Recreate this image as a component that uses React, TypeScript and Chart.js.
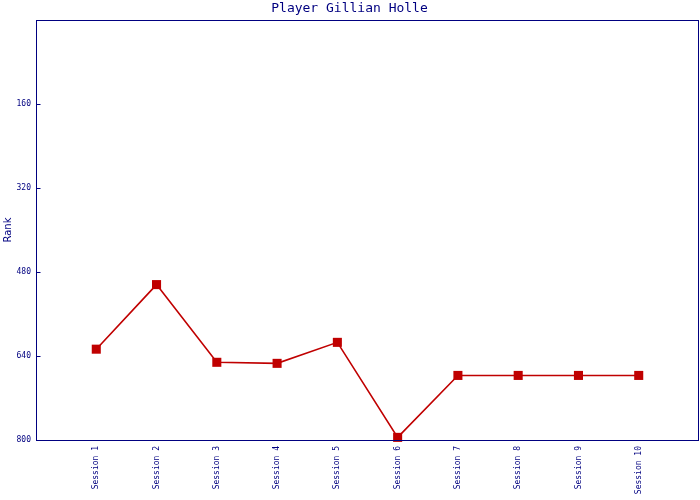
import React, { useEffect, useRef } from "react";
import { Chart, registerables } from "chart.js";

Chart.register(...registerables);

const categories = ["Session 1", "Session 2", "Session 3", "Session 4", "Session 5", "Session 6", "Session 7", "Session 8", "Session 9", "Session 10"];
const rankValues = [627, 504, 652, 654, 614, 795, 677, 677, 677, 677];
const yTicks = [160, 320, 480, 640, 800];

const NAVY = "#000080";
const RED = "#c00000";

const boxPlugin = {
  id: "boxPlugin",
  afterDraw(chart: any) {
    const { ctx, chartArea } = chart;
    const y = chart.scales.y;
    ctx.save();
    ctx.strokeStyle = NAVY;
    ctx.lineWidth = 1;
    ctx.strokeRect(chartArea.left + 0.5, chartArea.top + 0.5, chartArea.right - chartArea.left - 1, chartArea.bottom - chartArea.top);
    ctx.beginPath();
    yTicks.forEach((v) => {
      const py = Math.round(y.getPixelForValue(v)) + 0.5;
      ctx.moveTo(chartArea.left, py);
      ctx.lineTo(chartArea.left + 4.5, py);
    });
    ctx.stroke();
    ctx.restore();
  },
};

export default function App() {
  const ref = useRef<HTMLCanvasElement>(null);
  useEffect(() => {
    document.body.style.margin = "0";
    const chart = new Chart(ref.current as HTMLCanvasElement, {
      type: "line",
      data: {
        datasets: [
          {
            label: "Rank",
            data: rankValues.map((v, i) => ({ x: i + 1, y: v })),
            borderColor: RED,
            backgroundColor: RED,
            borderWidth: 1.6,
            pointStyle: "rect",
            pointRadius: 6.4,
            pointBorderWidth: 0,
            tension: 0,
            clip: false,
          },
        ],
      },
      options: {
        animation: false,
        responsive: false,
        devicePixelRatio: 1,
        layout: { autoPadding: false, padding: { left: 0, right: 1, top: 0, bottom: 0 } },
        plugins: {
          legend: { display: false },
          tooltip: { enabled: false },
          title: {
            display: true,
            text: "Player Gillian Holle",
            color: NAVY,
            font: { family: "DejaVu Sans Mono", size: 13, weight: "normal" },
            padding: { top: 1, bottom: 3.4 },
          },
        },
        scales: {
          x: {
            type: "linear",
            min: 0,
            max: 11,
            afterFit(scale: any) {
              scale.height = 60;
              scale.paddingLeft = 0;
              scale.paddingRight = 0;
            },
            afterBuildTicks(scale: any) {
              scale.ticks = categories.map((_, i) => ({ value: i + 1 }));
            },
            grid: { display: false, drawTicks: false },
            border: { display: false },
            ticks: {
              autoSkip: false,
              minRotation: 90,
              maxRotation: 90,
              padding: 6,
              color: NAVY,
              font: { family: "DejaVu Sans Mono", size: 8 },
              callback: (v: any) => categories[Number(v) - 1] ?? "",
            },
          },
          y: {
            reverse: true,
            min: 0,
            max: 800,
            afterFit(scale: any) {
              scale.width = 36;
              scale.paddingTop = 0;
              scale.paddingBottom = 0;
            },
            afterBuildTicks(scale: any) {
              scale.ticks = yTicks.map((v) => ({ value: v }));
            },
            grid: { display: false, drawTicks: false },
            border: { display: false },
            title: {
              display: true,
              text: "Rank",
              color: NAVY,
              font: { family: "DejaVu Sans", size: 10 },
              padding: { top: 2, bottom: 0 },
            },
            ticks: {
              padding: 5,
              color: NAVY,
              font: { family: "DejaVu Sans Mono", size: 8 },
            },
          },
        },
      },
      plugins: [boxPlugin],
    });
    return () => chart.destroy();
  }, []);
  return (
    <div style={{ width: 700, height: 500 }}>
      <canvas ref={ref} width={700} height={500} style={{ display: "block" }} />
    </div>
  );
}
